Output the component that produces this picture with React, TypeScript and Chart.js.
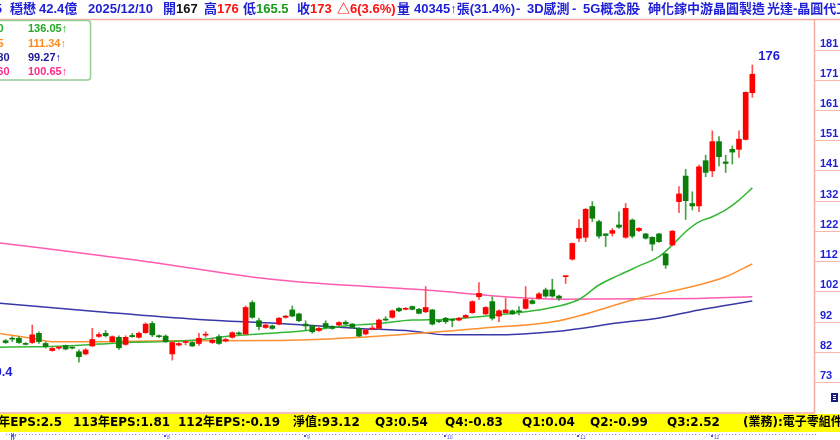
import React, { useEffect, useRef } from "react";
import { Chart, registerables } from "chart.js";
Chart.register(...registerables);

// ---------- data ----------
const OPEN = [
  86.4, 87.0, 87.2, 85.5, 85.8, 88.8, 85.5, 83.2, 84.0, 84.8,
  84.1, 82.8, 82.1, 84.7, 87.8, 88.8, 86.1, 87.5, 85.2, 88.1,
  87.5, 89.0, 92.0, 88.0, 87.9, 82.1, 85.0, 85.8, 85.8, 85.5,
  88.2, 85.8, 87.7, 86.3, 87.5, 88.9, 88.6, 98.8, 92.9, 90.7,
  91.2, 91.8, 94.0, 96.4, 95.1, 91.8, 91.2, 89.7, 92.0, 91.0,
  91.5, 92.4, 91.8, 90.4, 88.6, 90.2, 90.4, 93.2, 94.0, 96.9,
  96.6, 97.5, 96.6, 95.8, 96.4, 92.8, 93.7, 93.1, 93.1, 94.0,
  95.5, 100.7, 95.1, 99.1, 94.4, 95.5, 96.1, 95.9, 96.9, 99.4,
  100.2, 102.9, 102.9, 100.9, 107.2, 112.9, 119.7, 120.0, 130.0, 125.1,
  121.1, 121.3, 124.0, 120.0, 125.6, 122.2, 121.1, 120.0, 121.1, 114.6,
  117.5, 131.6, 139.9, 131.0, 130.2, 144.9, 141.6, 151.1, 144.5, 148.6,
  148.6, 151.8, 167,
];
const HIGH = [
  86.8, 87.7, 87.7, 85.8, 91.5, 89.3, 86.0, 84.2, 84.5, 85.0,
  84.4, 83.4, 83.8, 90.4, 89.0, 89.7, 88.0, 88.0, 88.0, 88.8,
  89.3, 92.2, 92.6, 88.3, 88.3, 86.1, 85.8, 86.6, 86.1, 88.8,
  89.3, 87.0, 88.3, 87.2, 89.3, 89.3, 97.7, 99.4, 93.7, 91.8,
  91.5, 94.0, 94.6, 97.7, 95.4, 92.9, 91.5, 90.9, 92.9, 91.3,
  92.6, 92.9, 92.0, 90.7, 90.1, 91.3, 93.4, 94.2, 96.4, 97.2,
  97.2, 97.7, 96.9, 104.0, 96.6, 93.1, 94.0, 93.4, 94.0, 94.9,
  99.4, 105.3, 97.5, 100.7, 96.4, 100.2, 96.4, 97.5, 104.0, 99.8,
  102.0, 103.5, 106.4, 101.2, 107.4, 118.2, 125.8, 129.4, 131.6, 125.6,
  121.2, 122.9, 128.3, 131.0, 126.0, 123.2, 121.3, 120.2, 121.3, 114.8,
  122.2, 136.5, 142.1, 134.8, 143.5, 146.7, 154.6, 152.7, 146.7, 149.7,
  154.6, 167.3, 176,
];
const LOW = [
  85.5, 86.1, 85.5, 85.0, 85.5, 85.5, 84.0, 83.0, 83.6, 83.4,
  83.7, 79.4, 81.8, 84.5, 87.5, 87.6, 85.8, 83.6, 84.9, 87.5,
  87.2, 88.8, 87.7, 87.4, 85.8, 80.1, 84.7, 85.0, 84.5, 84.9,
  87.5, 85.5, 85.2, 86.0, 87.2, 88.3, 88.3, 93.7, 89.9, 90.4,
  90.1, 91.5, 93.7, 94.2, 92.6, 89.9, 88.8, 89.4, 90.4, 90.1,
  91.2, 91.5, 90.4, 87.7, 88.3, 89.9, 90.1, 92.8, 93.7, 95.8,
  96.4, 96.4, 95.1, 95.5, 91.5, 92.3, 92.0, 90.9, 92.8, 93.7,
  95.3, 99.8, 94.9, 93.1, 92.6, 95.3, 94.9, 94.8, 96.6, 98.3,
  99.9, 100.5, 100.5, 99.5, 105.0, 112.6, 118.6, 118.6, 125.1, 119.7,
  117.0, 120.4, 122.9, 119.7, 119.8, 121.8, 119.4, 115.7, 118.3, 109.9,
  117.2, 128.0, 125.8, 128.9, 128.3, 139.7, 139.7, 143.2, 141.1, 143.8,
  146.0, 151.6, 165.5,
];
const CLOSE = [
  85.8, 86.9, 85.8, 85.2, 88.3, 86.1, 84.5, 83.9, 84.2, 83.7,
  84.0, 81.2, 83.4, 86.8, 88.4, 88.0, 87.7, 84.1, 87.5, 87.7,
  88.8, 91.8, 88.3, 87.7, 86.1, 85.8, 85.5, 85.8, 84.7, 87.2,
  88.4, 86.6, 85.5, 86.8, 89.0, 88.6, 97.2, 94.0, 91.0, 91.5,
  90.4, 93.7, 94.4, 94.4, 92.9, 91.2, 89.3, 90.4, 90.7, 90.4,
  92.3, 91.8, 90.7, 87.9, 89.9, 90.5, 93.1, 93.1, 96.1, 96.1,
  96.9, 96.6, 95.3, 97.2, 91.8, 92.6, 92.6, 93.0, 93.7, 94.6,
  99.1, 101.8, 97.2, 93.7, 96.1, 96.4, 95.1, 95.8, 99.8, 98.5,
  101.6, 100.9, 100.9, 100.2, 107.4, 118.0, 122.9, 129.1, 126.2, 120.4,
  120.6, 122.2, 123.3, 129.4, 120.4, 122.9, 119.7, 117.8, 118.6, 111.0,
  122.0, 134.1, 131.9, 130.2, 142.9, 141.1, 151.1, 146.2, 144.0, 147.7,
  151.9, 167.1, 173,
];

// moving-average lines, read at sample candles (index, value)
const MA_A_IDX = [-1, 4, 9, 14, 19, 24, 29, 34, 41, 46, 51, 56, 61, 66, 71, 76, 81, 86, 89, 92, 95, 98, 100, 102, 104, 106, 108, 110, 112];
const MA_A_VAL = [84.3, 84.4, 84.7, 85.3, 85.9, 86.1, 86.7, 88.0, 89.0, 89.9, 91.2, 92.0, 93.1, 93.3, 94.2, 95.3, 96.8, 99.8, 104.5, 107.7, 110.7, 113.7, 117.5, 121.8, 125.0, 126.7, 128.9, 132.1, 136.05];
const MA_B_IDX = [-1, 4, 7, 14, 24, 41, 62, 71, 83, 95, 103, 108, 112];
const MA_B_VAL = [88.8, 87.2, 86.1, 86.1, 86.4, 86.5, 88.8, 90.4, 92.9, 100.2, 104.0, 107.2, 111.34];
const MA_C_IDX = [-1, 14, 29, 41, 53, 61, 66, 73, 83, 92, 98, 104, 112];
const MA_C_VAL = [98.6, 95.8, 93.3, 92.0, 90.4, 89.5, 88.3, 88.3, 89.5, 92.2, 93.8, 96.4, 99.27];
const MA_D_IDX = [-1, 20, 41, 62, 83, 95, 105, 112];
const MA_D_VAL = [118.2, 112.5, 106.1, 103.0, 99.9, 100.0, 100.2, 100.65];

const MA_NAMES = ["MA20", "MA55", "MA180", "MA260"];
const MA_LAST = ["136.05↑", "111.34↑", "99.27↑", "100.65↑"];

const Y_TICK_LABELS = ["181", "171", "161", "151", "141", "132", "122", "112", "102", "92", "82", "73"];
const Y_TICK_TOP = 181;
const Y_TICK_BOTTOM = 73;

const MONTH_LABELS = ["7", "8", "9", "10", "11", "12"];
const MONTH_START = [0, 23, 44, 65, 85, 105];

const LOW_LABEL = "79.4";
const HIGH_LABEL = "176";

// ---------- style ----------
const W = 840;
const H = 440;
const FONT = "'Liberation Sans', 'Noto Sans CJK TC', sans-serif";
const FONT_STRIP = "'DejaVu Sans', 'Noto Sans CJK TC', sans-serif";
const BLUE = "#1e1ed6";
const RED = "#ff1010";
const GREEN_TXT = "#1a9a1a";
const UP = "#ff0000";
const DOWN = "#0a7d0a";
const UP_WICK = "#ff5050";
const DOWN_WICK = "#44a044";
const MA_COLORS = ["#33b833", "#ff9030", "#3838a8", "#ff5cb0"];
const MA_TXT = ["#22aa22", "#ff8a1a", "#1a1a99", "#ff2a8a"];
const PINK_LINE = "#f5aaa4";

function txt(ctx: CanvasRenderingContext2D, s: string, x: number, y: number, color: string, font: string, align: CanvasTextAlign = "left") {
  ctx.fillStyle = color;
  ctx.font = font;
  ctx.textAlign = align;
  ctx.textBaseline = "middle";
  ctx.fillText(s, x, y);
}

const deco = {
  id: "deco",
  beforeDraw(chart: any) {
    const ctx = chart.ctx as CanvasRenderingContext2D;
    ctx.save();
    ctx.fillStyle = "#ffffff";
    ctx.fillRect(0, 0, W, H);
    ctx.restore();
  },
  afterDraw(chart: any) {
    const ctx = chart.ctx as CanvasRenderingContext2D;
    const xs = chart.scales.x;
    const ys = chart.scales.y;
    const area = chart.chartArea;
    ctx.save();

    // frame lines
    ctx.strokeStyle = PINK_LINE;
    ctx.lineWidth = 1.5;
    ctx.beginPath();
    ctx.moveTo(0, 19.5);
    ctx.lineTo(W, 19.5);
    ctx.moveTo(area.right - 0.5, 19.5);
    ctx.lineTo(area.right - 0.5, 413);
    ctx.moveTo(0, 413);
    ctx.lineTo(area.right, 413);
    ctx.stroke();

    // right axis ticks & labels
    const n = Y_TICK_LABELS.length;
    for (let k = 0; k < n; k++) {
      const v = Y_TICK_TOP - (k * (Y_TICK_TOP - Y_TICK_BOTTOM)) / (n - 1);
      const py = ys.getPixelForValue(v);
      ctx.strokeStyle = "#f8b8b0";
      ctx.lineWidth = 1;
      ctx.beginPath();
      ctx.moveTo(area.right, Math.round(py) + 0.5);
      ctx.lineTo(W, Math.round(py) + 0.5);
      ctx.stroke();
      txt(ctx, Y_TICK_LABELS[k], 820, py - 6, BLUE, `bold 11px ${FONT}`);
    }
    // small icon bottom-right
    ctx.fillStyle = "#1a1a80";
    ctx.fillRect(831, 393, 7, 9);
    ctx.fillStyle = "#ffffff";
    ctx.fillRect(833, 395, 3, 1);
    ctx.fillRect(833, 397, 3, 1);
    ctx.fillRect(833, 399, 3, 1);

    // header
    const hf = `bold 13px ${FONT}`;
    const hy = 9.5;
    txt(ctx, "3105", 2, hy, BLUE, hf, "right");
    txt(ctx, "穩懋", 10, hy, BLUE, hf);
    txt(ctx, "42.4億", 39, hy, BLUE, hf);
    txt(ctx, "2025/12/10", 88, hy, BLUE, hf);
    txt(ctx, "開", 163, hy, BLUE, hf);
    txt(ctx, "167", 176, hy, "#111111", hf);
    txt(ctx, "高", 204, hy, BLUE, hf);
    txt(ctx, "176", 217, hy, RED, hf);
    txt(ctx, "低", 243, hy, BLUE, hf);
    txt(ctx, "165.5", 256, hy, GREEN_TXT, hf);
    txt(ctx, "收", 297, hy, BLUE, hf);
    txt(ctx, "173", 310, hy, RED, hf);
    txt(ctx, "△6(3.6%)", 337, hy, RED, hf);
    txt(ctx, "量", 397, hy, BLUE, hf);
    txt(ctx, "40345↑張(31.4%)", 414, hy, BLUE, hf);
    txt(ctx, "-", 516, hy, BLUE, hf);
    txt(ctx, "3D感測", 527, hy, BLUE, hf);
    txt(ctx, "-", 572, hy, BLUE, hf);
    txt(ctx, "5G概念股", 583, hy, BLUE, hf);
    txt(ctx, "-", 636, hy, BLUE, hf);
    txt(ctx, "砷化鎵中游晶圓製造", 648, hy, BLUE, hf);
    txt(ctx, "-", 753, hy, BLUE, hf);
    txt(ctx, "光達-晶圓代工", 767, hy, BLUE, hf);

    // legend box
    ctx.fillStyle = "#ffffff";
    ctx.strokeStyle = "#96cc96";
    ctx.lineWidth = 1.5;
    ctx.beginPath();
    (ctx as any).roundRect(-6, 20.5, 96.5, 59.5, 3);
    ctx.fill();
    ctx.stroke();
    const rowsY = [29, 43.5, 57.5, 71.5];
    const lf = `bold 11px ${FONT}`;
    for (let k = 0; k < 4; k++) {
      txt(ctx, MA_NAMES[k], k < 2 ? 3.5 : 9.5, rowsY[k], MA_TXT[k], lf, "right");
      txt(ctx, MA_LAST[k], 28, rowsY[k], MA_TXT[k], lf);
    }

    // high / low annotations
    const last = CLOSE.length - 1;
    txt(ctx, HIGH_LABEL, xs.getPixelForValue(last) + 6, ys.getPixelForValue(Math.max(...HIGH)) - 9, BLUE, `bold 13px ${FONT}`);
    txt(ctx, LOW_LABEL, 12.5, ys.getPixelForValue(Math.min(...LOW)) + 10, BLUE, `bold 13px ${FONT}`, "right");

    // bottom yellow strip
    ctx.fillStyle = "#ffff00";
    ctx.fillRect(0, 414, W, 18);
    const sf = `bold 12px ${FONT_STRIP}`;
    const sy = 423;
    txt(ctx, "114年EPS:2.5", 62, sy, "#000000", sf, "right");
    txt(ctx, "113年EPS:1.81", 73, sy, "#000000", sf);
    txt(ctx, "112年EPS:-0.19", 178, sy, "#000000", sf);
    txt(ctx, "淨值:93.12", 293, sy, "#000000", sf);
    txt(ctx, "Q3:0.54", 375, sy, "#000000", sf);
    txt(ctx, "Q4:-0.83", 445, sy, "#000000", sf);
    txt(ctx, "Q1:0.04", 522, sy, "#000000", sf);
    txt(ctx, "Q2:-0.99", 590, sy, "#000000", sf);
    txt(ctx, "Q3:2.52", 667, sy, "#000000", sf);
    txt(ctx, "(業務):電子零組件", 743, sy, "#000000", sf);

    // bottom dotted time axis
    ctx.fillStyle = "#8a8aff";
    for (let i = 0; i < 122; i++) {
      const px = xs.getPixelForValue(i);
      if (px > area.right) break;
      ctx.fillRect(Math.round(px), 434, 1, 1);
      ctx.fillRect(Math.round(px) + 3, 434, 1, 1);
    }
    ctx.fillStyle = "#6a6ad0";
    ctx.fillRect(11, 433, 1, 7);
    ctx.fillRect(13, 433, 1, 7);
    for (let m = 0; m < MONTH_LABELS.length; m++) {
      const px = xs.getPixelForValue(MONTH_START[m]) + 5;
      ctx.fillStyle = "#5050e0";
      ctx.fillRect(Math.round(px), 435, 2, 2);
      txt(ctx, MONTH_LABELS[m], px + 3, 437.5, "#5050e0", `5px ${FONT}`);
    }

    ctx.restore();
  },
};

export default function App() {
  const ref = useRef<HTMLCanvasElement | null>(null);
  useEffect(() => {
    const canvas = ref.current;
    if (!canvas) return;
    const idx = OPEN.map((_, i) => i);
    const isUp = idx.map((i) => CLOSE[i] >= OPEN[i]);
    const knots = (I: number[], V: number[]) => I.map((x, k) => ({ x, y: V[k] }));
    const lineDs = (I: number[], V: number[], c: string) => ({
      type: "line" as const,
      data: knots(I, V),
      borderColor: c,
      borderWidth: 1.5,
      pointRadius: 0,
      fill: false,
      cubicInterpolationMode: "monotone" as const,
      order: 3,
    });
    const chart = new Chart(canvas, {
      type: "bar",
      data: {
        datasets: [
          {
            type: "bar",
            data: idx.map((i) => ({ x: i, y: [OPEN[i], CLOSE[i]] })) as any,
            backgroundColor: idx.map((i) => (isUp[i] ? UP : DOWN)),
            barThickness: 5,
            minBarLength: 1,
            grouped: false,
            order: 0,
          } as any,
          {
            type: "bar",
            data: idx.map((i) => ({ x: i, y: [LOW[i], HIGH[i]] })) as any,
            backgroundColor: idx.map((i) => (isUp[i] ? UP_WICK : DOWN_WICK)),
            barThickness: 1,
            grouped: false,
            order: 1,
          } as any,
          lineDs(MA_A_IDX, MA_A_VAL, MA_COLORS[0]) as any,
          lineDs(MA_B_IDX, MA_B_VAL, MA_COLORS[1]) as any,
          lineDs(MA_C_IDX, MA_C_VAL, MA_COLORS[2]) as any,
          lineDs(MA_D_IDX, MA_D_VAL, MA_COLORS[3]) as any,
        ],
      },
      options: {
        animation: false,
        responsive: false,
        devicePixelRatio: 1,
        layout: { padding: { left: 0, right: 25, top: 20, bottom: 28 } },
        plugins: { legend: { display: false }, tooltip: { enabled: false } },
        scales: {
          x: { type: "linear", min: -0.84, max: 121.4, offset: false, display: false },
          y: { type: "linear", min: 63.23, max: 190.62, display: false },
        },
      },
      plugins: [deco],
    });
    return () => chart.destroy();
  }, []);
  return (
    <div style={{ position: "fixed", left: 0, top: 0, width: W, height: H, background: "#fff" }}>
      <canvas ref={ref} width={W} height={H} style={{ width: W, height: H, display: "block" }} />
    </div>
  );
}
